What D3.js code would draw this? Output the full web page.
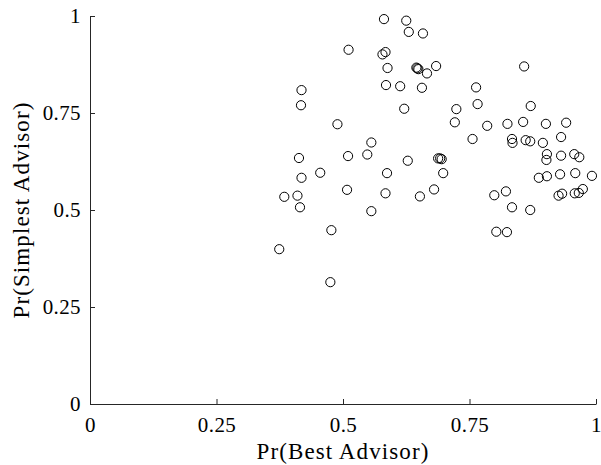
<!DOCTYPE html>
<html>
  <head>
    <meta charset="utf-8" />
    <title>Best vs Simplest Advisor</title>
    <script src="https://d3js.org/d3.v7.min.js"></script>
    <style>
      body { margin: 0; background: #fff; }
      text { font-family: "Liberation Serif", "DejaVu Serif", serif; fill: #000; }
    </style>
  </head>
  <body>
    <script>
      // probabilities
      let bestAdvisor = [
        0.581, 0.625, 0.630, 0.658, 0.511, 0.584, 0.578, 0.588, 0.645, 0.647,
        0.649, 0.666, 0.684, 0.585, 0.613, 0.656, 0.418, 0.417, 0.621, 0.724,
        0.721, 0.489, 0.556, 0.413, 0.510, 0.548, 0.628, 0.688, 0.692, 0.695,
        0.455, 0.418, 0.587, 0.698, 0.508, 0.584, 0.652, 0.680, 0.384, 0.410,
        0.415, 0.556, 0.477, 0.374, 0.475, 0.858, 0.763, 0.766, 0.871, 0.785,
        0.825, 0.856, 0.901, 0.941, 0.756, 0.834, 0.835, 0.861, 0.870, 0.895,
        0.931, 0.903, 0.902, 0.931, 0.957, 0.967, 0.887, 0.903, 0.929, 0.959,
        0.992, 0.799, 0.822, 0.926, 0.933, 0.958, 0.966, 0.974, 0.834, 0.870,
        0.803, 0.824
      ];
      let simplestAdvisor = [
        0.992, 0.988, 0.959, 0.955, 0.913, 0.907, 0.901, 0.866, 0.867, 0.865,
        0.863, 0.852, 0.871, 0.822, 0.819, 0.815, 0.809, 0.770, 0.761, 0.760,
        0.726, 0.721, 0.674, 0.634, 0.639, 0.643, 0.627, 0.633, 0.633, 0.631,
        0.596, 0.583, 0.595, 0.595, 0.552, 0.543, 0.535, 0.553, 0.534, 0.537,
        0.507, 0.497, 0.448, 0.399, 0.314, 0.870, 0.816, 0.773, 0.768, 0.717,
        0.722, 0.727, 0.722, 0.725, 0.683, 0.683, 0.673, 0.680, 0.677, 0.673,
        0.688, 0.644, 0.629, 0.640, 0.644, 0.636, 0.583, 0.587, 0.592, 0.595,
        0.588, 0.538, 0.548, 0.537, 0.542, 0.543, 0.544, 0.554, 0.507, 0.500,
        0.444, 0.443
      ];
      let tickValues = [0, 0.25, 0.5, 0.75, 1];
      let tickLabels = ["0", "0.25", "0.5", "0.75", "1"];

      let width = 601;
      let height = 465;
      let margin = { left: 90, right: 5, top: 16, bottom: 61 };
      let axisColor = "#262626";

      let svg = d3
        .select("body")
        .append("svg")
        .attr("width", width)
        .attr("height", height);

      let x = d3.scaleLinear().domain([0, 1]).range([margin.left, width - margin.right]);
      let y = d3.scaleLinear().domain([0, 1]).range([height - margin.bottom, margin.top]);

      // x axis, ticks pointing into the plot
      let xAxis = svg
        .append("g")
        .attr("transform", `translate(0,${y(0)})`)
        .call(
          d3.axisBottom(x)
            .tickValues(tickValues)
            .tickFormat((d, i) => tickLabels[i])
            .tickSizeInner(-5)
            .tickSizeOuter(0)
        );
      xAxis.select(".domain").attr("stroke", axisColor);
      xAxis.selectAll(".tick line").attr("stroke", axisColor);
      xAxis
        .selectAll(".tick text")
        .attr("y", 13)
        .attr("dy", "0.71em")
        .style("font-size", "21px")
        .style("letter-spacing", "0.4px");

      // y axis
      let yAxis = svg
        .append("g")
        .attr("transform", `translate(${x(0)},0)`)
        .call(
          d3.axisLeft(y)
            .tickValues(tickValues)
            .tickFormat((d, i) => tickLabels[i])
            .tickSizeInner(-5)
            .tickSizeOuter(0)
        );
      yAxis.select(".domain").attr("stroke", axisColor);
      yAxis.selectAll(".tick line").attr("stroke", axisColor);
      yAxis
        .selectAll(".tick text")
        .attr("x", -9)
        .style("font-size", "21px")
        .style("letter-spacing", "0.4px");

      // axis labels
      svg
        .append("text")
        .attr("x", (x(0) + x(1)) / 2)
        .attr("y", 459)
        .attr("text-anchor", "middle")
        .style("font-size", "23px")
        .style("letter-spacing", "1.1px")
        .text("Pr(Best Advisor)");

      svg
        .append("text")
        .attr("transform", `translate(29,${(y(0) + y(1)) / 2}) rotate(-90)`)
        .attr("text-anchor", "middle")
        .style("font-size", "23px")
        .style("letter-spacing", "1.1px")
        .text("Pr(Simplest Advisor)");

      // scatter points
      let points = bestAdvisor.map((b, i) => ({ b: b, s: simplestAdvisor[i] }));
      svg
        .append("g")
        .selectAll("circle")
        .data(points)
        .join("circle")
        .attr("cx", (d) => x(d.b))
        .attr("cy", (d) => y(d.s))
        .attr("r", 4.6)
        .attr("fill", "none")
        .attr("stroke", "#000")
        .attr("stroke-width", 1);
    </script>
  </body>
</html>
